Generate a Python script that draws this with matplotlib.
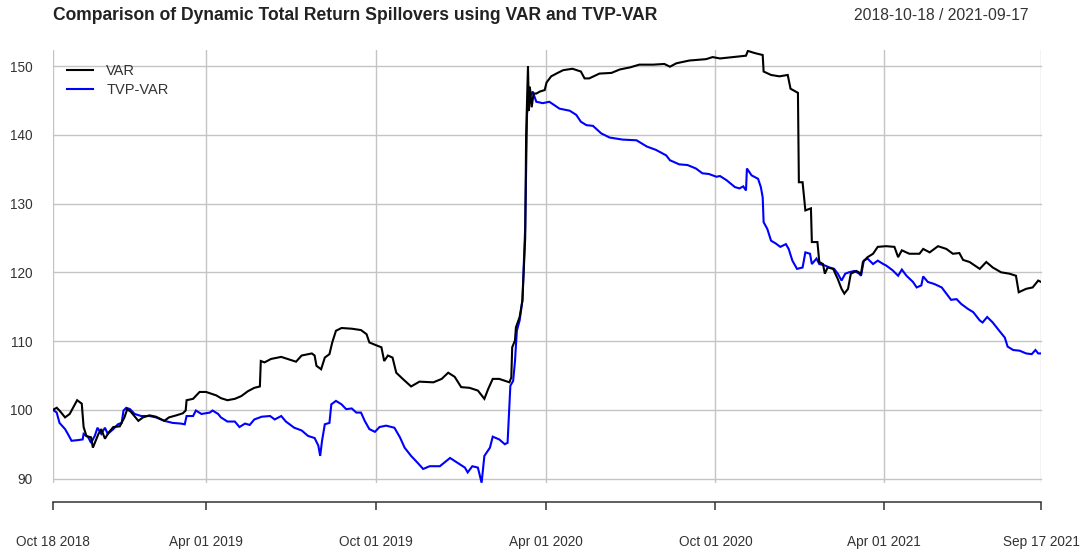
import matplotlib
matplotlib.use("Agg")
import matplotlib.pyplot as plt
import matplotlib.dates as mdates
import pandas as pd

title = "Comparison of Dynamic Total Return Spillovers using VAR and TVP-VAR"
range_text = "2018-10-18 / 2021-09-17"
series_names = ["VAR", "TVP-VAR"]
series_colors = ["#000000", "#0000FF"]

var_dates = [
    "2018-10-18", "2018-10-22", "2018-10-25", "2018-10-31", "2018-11-05", "2018-11-09", "2018-11-13",
    "2018-11-18", "2018-11-20", "2018-11-23", "2018-11-28", "2018-11-30", "2018-12-03", "2018-12-06",
    "2018-12-09", "2018-12-13", "2018-12-17", "2018-12-22", "2018-12-29", "2019-01-03", "2019-01-06",
    "2019-01-10", "2019-01-18", "2019-01-23", "2019-01-30", "2019-02-06", "2019-02-15", "2019-02-20",
    "2019-02-28", "2019-03-07", "2019-03-10", "2019-03-11", "2019-03-18", "2019-03-25", "2019-04-01",
    "2019-04-12", "2019-04-17", "2019-04-24", "2019-05-02", "2019-05-09", "2019-05-16", "2019-05-23",
    "2019-05-29", "2019-05-30", "2019-06-03", "2019-06-10", "2019-06-21", "2019-06-28", "2019-07-07",
    "2019-07-13", "2019-07-24", "2019-07-27", "2019-07-29", "2019-08-03", "2019-08-07", "2019-08-12",
    "2019-08-15", "2019-08-19", "2019-08-25", "2019-09-05", "2019-09-15", "2019-09-21", "2019-09-24",
    "2019-10-03", "2019-10-07", "2019-10-10", "2019-10-14", "2019-10-19", "2019-10-23", "2019-10-30",
    "2019-11-08", "2019-11-17", "2019-12-02", "2019-12-11", "2019-12-18", "2019-12-25", "2020-01-01",
    "2020-01-10", "2020-01-19", "2020-01-26", "2020-01-30", "2020-02-04", "2020-02-11", "2020-02-22",
    "2020-02-24", "2020-02-25", "2020-02-28", "2020-02-29", "2020-03-04", "2020-03-07", "2020-03-10",
    "2020-03-11", "2020-03-13", "2020-03-14", "2020-03-15", "2020-03-17", "2020-03-19", "2020-03-22",
    "2020-03-26", "2020-03-31", "2020-04-02", "2020-04-07", "2020-04-14", "2020-04-20", "2020-04-30",
    "2020-05-09", "2020-05-13", "2020-05-18", "2020-05-29", "2020-06-11", "2020-06-20", "2020-07-01",
    "2020-07-11", "2020-07-26", "2020-08-07", "2020-08-13", "2020-08-20", "2020-09-03", "2020-09-21",
    "2020-09-28", "2020-10-06", "2020-10-20", "2020-11-03", "2020-11-05", "2020-11-12", "2020-11-21",
    "2020-11-22", "2020-11-30", "2020-12-09", "2020-12-18", "2020-12-21", "2020-12-29", "2020-12-30",
    "2021-01-03", "2021-01-06", "2021-01-12", "2021-01-13", "2021-01-19", "2021-01-21", "2021-01-25",
    "2021-01-27", "2021-01-30", "2021-02-05", "2021-02-10", "2021-02-14", "2021-02-17", "2021-02-21",
    "2021-02-24", "2021-03-02", "2021-03-07", "2021-03-09", "2021-03-14", "2021-03-20", "2021-03-25",
    "2021-04-03", "2021-04-12", "2021-04-16", "2021-04-20", "2021-04-28", "2021-05-09", "2021-05-13",
    "2021-05-20", "2021-05-29", "2021-06-07", "2021-06-14", "2021-06-21", "2021-06-25", "2021-07-02",
    "2021-07-13", "2021-07-20", "2021-07-27", "2021-08-05", "2021-08-14", "2021-08-21", "2021-08-24",
    "2021-09-01", "2021-09-08", "2021-09-14", "2021-09-17",
]
var_values = [
    100.0, 100.3, 99.9, 98.9, 99.4, 100.4, 101.4,
    100.9, 97.5, 96.2, 96.0, 94.5, 95.5, 96.5,
    97.2, 95.8, 96.7, 97.5, 97.6, 98.9, 100.1,
    99.7, 98.4, 98.9, 99.2, 99.0, 98.4, 98.9,
    99.2, 99.5, 99.9, 101.4, 101.6, 102.6, 102.6,
    102.1, 101.7, 101.4, 101.6, 102.0, 102.7, 103.2,
    103.4, 107.1, 106.9, 107.4, 107.7, 107.4, 107.0,
    107.9, 108.2, 107.9, 106.4, 105.9, 107.6, 108.1,
    109.8, 111.5, 111.9, 111.8, 111.6, 111.0, 109.8,
    109.3, 109.1, 107.1, 107.9, 107.6, 105.4, 104.5,
    103.4, 104.1, 104.0, 104.5, 105.4, 104.8, 103.3,
    103.2, 102.8, 101.6, 103.0, 104.5, 104.5, 104.0,
    104.7, 109.1, 110.1, 112.0, 113.5, 115.9, 125.0,
    140.0, 150.0, 143.5, 147.0, 144.0, 146.0, 146.0,
    146.3, 146.5, 147.6, 148.5, 149.0, 149.4, 149.6,
    149.2, 148.2, 148.2, 148.9, 149.0, 149.5, 149.8,
    150.2, 150.2, 150.3, 149.9, 150.4, 150.8, 151.0,
    151.3, 151.1, 151.3, 151.5, 152.2, 151.9, 151.6,
    149.2, 148.7, 148.5, 148.7, 146.7, 146.1, 133.1,
    133.1, 129.0, 129.3, 124.4, 124.4, 121.5, 121.2,
    119.8, 120.7, 120.5, 119.0, 117.6, 116.9, 117.6,
    119.8, 120.2, 119.8, 121.5, 122.2, 122.7, 123.7,
    123.8, 123.7, 122.2, 123.2, 122.7, 122.7, 123.4,
    122.9, 123.8, 123.4, 122.7, 122.8, 121.8, 121.5,
    120.5, 121.5, 120.7, 120.0, 119.8, 119.5, 117.1,
    117.6, 117.8, 118.8, 118.6,
]

tvp_dates = [
    "2018-10-18", "2018-10-22", "2018-10-25", "2018-10-31", "2018-11-03", "2018-11-07", "2018-11-14",
    "2018-11-19", "2018-11-20", "2018-11-25", "2018-11-28", "2018-12-02", "2018-12-05", "2018-12-09",
    "2018-12-13", "2018-12-16", "2018-12-22", "2018-12-27", "2018-12-31", "2019-01-02", "2019-01-05",
    "2019-01-09", "2019-01-14", "2019-01-21", "2019-01-30", "2019-02-06", "2019-02-15", "2019-02-24",
    "2019-03-05", "2019-03-09", "2019-03-11", "2019-03-18", "2019-03-21", "2019-03-27", "2019-04-05",
    "2019-04-08", "2019-04-14", "2019-04-17", "2019-04-24", "2019-05-02", "2019-05-07", "2019-05-13",
    "2019-05-18", "2019-05-23", "2019-05-31", "2019-06-09", "2019-06-14", "2019-06-21", "2019-06-26",
    "2019-07-05", "2019-07-13", "2019-07-20", "2019-07-27", "2019-07-31", "2019-08-02", "2019-08-04",
    "2019-08-07", "2019-08-12", "2019-08-14", "2019-08-19", "2019-08-25", "2019-08-30", "2019-09-05",
    "2019-09-10", "2019-09-15", "2019-09-19", "2019-09-24", "2019-09-30", "2019-10-05", "2019-10-12",
    "2019-10-21", "2019-10-27", "2019-11-01", "2019-11-08", "2019-11-15", "2019-11-21", "2019-11-28",
    "2019-12-09", "2019-12-20", "2019-12-28", "2020-01-05", "2020-01-08", "2020-01-13", "2020-01-19",
    "2020-01-23", "2020-01-26", "2020-02-01", "2020-02-04", "2020-02-11", "2020-02-17", "2020-02-20",
    "2020-02-23", "2020-02-26", "2020-02-28", "2020-03-01", "2020-03-04", "2020-03-07", "2020-03-10",
    "2020-03-12", "2020-03-15", "2020-03-18", "2020-03-22", "2020-03-29", "2020-04-05", "2020-04-16",
    "2020-04-27", "2020-05-04", "2020-05-09", "2020-05-15", "2020-05-22", "2020-05-31", "2020-06-09",
    "2020-06-23", "2020-07-08", "2020-07-19", "2020-07-29", "2020-08-09", "2020-08-13", "2020-08-23",
    "2020-09-01", "2020-09-10", "2020-09-17", "2020-09-24", "2020-10-02", "2020-10-06", "2020-10-13",
    "2020-10-22", "2020-10-27", "2020-10-31", "2020-11-03", "2020-11-04", "2020-11-09", "2020-11-16",
    "2020-11-19", "2020-11-21", "2020-11-22", "2020-11-26", "2020-11-30", "2020-12-05", "2020-12-10",
    "2020-12-16", "2020-12-19", "2020-12-23", "2020-12-28", "2021-01-03", "2021-01-06", "2021-01-11",
    "2021-01-13", "2021-01-18", "2021-01-21", "2021-01-27", "2021-02-01", "2021-02-06", "2021-02-10",
    "2021-02-14", "2021-02-18", "2021-02-22", "2021-02-28", "2021-03-05", "2021-03-07", "2021-03-10",
    "2021-03-14", "2021-03-20", "2021-03-25", "2021-03-31", "2021-04-03", "2021-04-10", "2021-04-16",
    "2021-04-20", "2021-04-25", "2021-05-02", "2021-05-06", "2021-05-11", "2021-05-13", "2021-05-18",
    "2021-05-25", "2021-06-02", "2021-06-07", "2021-06-12", "2021-06-18", "2021-06-23", "2021-06-30",
    "2021-07-06", "2021-07-13", "2021-07-16", "2021-07-21", "2021-07-27", "2021-08-03", "2021-08-09",
    "2021-08-12", "2021-08-18", "2021-08-25", "2021-09-01", "2021-09-07", "2021-09-11", "2021-09-14",
    "2021-09-17",
]
tvp_values = [
    100.0, 99.6, 98.1, 97.2, 96.5, 95.5, 95.6,
    95.7, 96.5, 96.0, 95.2, 96.2, 97.4, 96.5,
    97.4, 96.5, 97.2, 97.9, 98.1, 99.9, 100.3,
    100.1, 99.4, 99.1, 99.1, 98.9, 98.4, 98.1,
    98.0, 97.9, 99.1, 99.1, 99.9, 99.4, 99.6,
    99.9, 99.4, 98.9, 98.3, 98.3, 97.5, 98.0,
    97.8, 98.6, 99.0, 99.1, 98.6, 99.1, 98.3,
    97.4, 97.0, 96.2, 95.9, 94.8, 93.3, 95.5,
    97.9, 98.1, 100.8, 101.3, 100.8, 100.1, 100.2,
    99.6, 99.6, 98.4, 97.2, 96.8, 97.5, 97.7,
    97.4, 96.0, 94.5, 93.3, 92.3, 91.4, 91.8,
    91.8, 93.0, 92.3, 91.6, 90.9, 91.8, 91.6,
    89.4, 93.3, 94.5, 96.1, 95.7, 95.0, 95.2,
    103.5, 104.2, 107.1, 111.5, 113.0, 115.9, 126.6,
    143.1, 145.5, 146.3, 144.8, 144.6, 144.8, 143.8,
    143.5, 142.9, 141.9, 141.4, 141.3, 140.2, 139.6,
    139.3, 139.2, 138.3, 137.8, 137.0, 136.3, 135.7,
    135.6, 135.1, 134.4, 134.3, 133.9, 134.0, 133.4,
    132.4, 132.2, 132.5, 131.9, 135.1, 134.1, 133.6,
    132.4, 130.9, 127.3, 126.3, 124.6, 124.2, 123.7,
    124.1, 123.4, 121.7, 120.5, 120.7, 122.9, 122.7,
    121.2, 122.0, 121.2, 121.0, 120.7, 120.5, 119.8,
    118.8, 119.8, 120.0, 120.2, 119.8, 119.5, 121.7,
    122.0, 121.2, 121.7, 121.2, 121.0, 120.3, 119.5,
    120.4, 119.5, 118.6, 117.8, 118.1, 119.4, 118.6,
    118.3, 117.8, 116.9, 116.0, 116.1, 115.4, 114.7,
    114.2, 113.0, 112.7, 113.5, 112.7, 111.5, 110.5,
    109.2, 108.7, 108.6, 108.2, 108.1, 108.7, 108.2,
    108.2,
]

x_ticks = ["2018-10-18", "2019-04-01", "2019-10-01", "2020-04-01", "2020-10-01", "2021-04-01", "2021-09-17"]
y_ticks = [90, 100, 110, 120, 130, 140, 150]
x_limits = ["2018-10-18", "2021-09-17"]
y_limits = [89.36, 152.33]

plt.rcParams["font.family"] = ["Liberation Sans", "DejaVu Sans"]

W, H = 1083, 552
fig = plt.figure(figsize=(W / 100, H / 100), dpi=100)
ax = fig.add_axes([53 / W, 1 - 483 / H, (1041 - 53) / W, (483 - 50) / H])

ax.plot(pd.to_datetime(var_dates), var_values, color=series_colors[0], lw=1.5,
        label=series_names[0], solid_joinstyle="miter", zorder=3)
ax.plot(pd.to_datetime(tvp_dates), tvp_values, color=series_colors[1], lw=1.5,
        label=series_names[1], solid_joinstyle="miter", zorder=2)

ax.set_xlim(pd.to_datetime(x_limits[0]), pd.to_datetime(x_limits[1]))
ax.set_ylim(*y_limits)

ax.set_xticks(pd.to_datetime(x_ticks))
ax.xaxis.set_major_formatter(mdates.DateFormatter("%b %d %Y"))
ax.set_yticks(y_ticks)

ax.set_axisbelow(True)
ax.grid(True, color="#c4c4c4", lw=1.0)
for gl in ax.get_xgridlines() + ax.get_ygridlines():
    gl.set_clip_on(False)

for s in ["top", "right", "left"]:
    ax.spines[s].set_visible(False)
ax.spines["bottom"].set_position(("outward", 19.3 * 72 / 100))
ax.spines["bottom"].set_color("#333333")
ax.spines["bottom"].set_linewidth(1.1)

ax.tick_params(axis="x", direction="out", length=8 * 0.72, width=1.1, color="#333333",
               labelcolor="#333333", labelsize=9.8, pad=18)
ax.tick_params(axis="y", length=0, labelcolor="#333333", labelsize=9.8, pad=15)

leg = ax.legend(loc="upper left", bbox_to_anchor=((67 - 53) / 988, (483 - 64) / 433),
                frameon=False, fontsize=10.5, handlelength=1.8, handletextpad=0.9,
                labelspacing=0.32, borderpad=0, borderaxespad=0)
for t in leg.get_texts():
    t.set_color("#333333")

fig.text(53 / W, 1 - 16 / H, title, ha="left", va="center", fontsize=12.65,
         fontweight="bold", color="#222222")
fig.text(1028 / W, 1 - 16 / H, range_text, ha="right", va="center", fontsize=11.3,
         color="#333333")

fig.savefig("out.png", dpi=100)
